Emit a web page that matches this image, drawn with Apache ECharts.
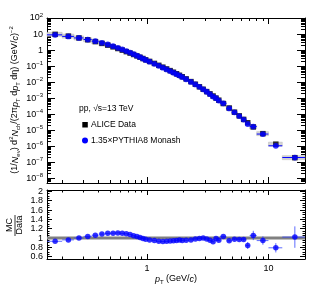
<!DOCTYPE html>
<html><head><meta charset="utf-8">
<script src="https://cdn.jsdelivr.net/npm/echarts@6/dist/echarts.min.js"></script>
<style>html,body{margin:0;padding:0;background:#fff}#c{width:315px;height:308px}</style>
</head><body><div id="c"></div>
<script>
// ---- data ----
const binEdges = [0.15,0.2,0.25,0.3,0.35,0.4,0.45,0.5,0.55,0.6,0.65,0.7,0.75,0.8,0.85,0.9,0.95,1.0,
  1.1,1.2,1.3,1.4,1.5,1.6,1.7,1.8,1.9,2.0,2.2,2.4,2.6,2.8,3.0,3.2,3.4,3.6,3.8,4.0,
  4.5,5.0,5.5,6.0,6.5,7.0,8.0,10.0,13.0,20.0];
const dataYield = [9.55,7.41,5.69,4.37,3.35,2.60,2.02,1.585,1.245,0.989,0.794,0.646,0.525,0.432,0.355,0.295,0.245,
  0.195,0.146,0.111,0.0851,0.0661,0.0519,0.0412,0.0331,0.0266,0.0216,
  0.0158,0.0107,0.00733,0.00507,0.00355,0.00254,0.00184,0.00135,0.00100,7.41e-4,
  4.57e-4,2.40e-4,1.32e-4,7.76e-5,4.68e-5,2.88e-5,
  1.58e-5,6.03e-6,1.33e-6,1.91e-7];
const mcOverData = [0.93,0.96,1.00,1.035,1.06,1.085,1.10,1.105,1.11,1.10,1.09,1.075,1.05,1.03,1.01,0.99,0.975,
  0.96,0.945,0.93,0.925,0.93,0.935,0.94,0.945,0.955,0.945,
  0.95,0.96,0.98,0.99,1.0,0.98,0.95,0.92,0.99,0.95,
  1.035,0.94,0.975,0.97,0.97,0.84,
  1.055,0.945,0.79,1.02];
const ratioErr = [0.004,0.004,0.004,0.004,0.004,0.004,0.004,0.004,0.004,0.004,0.004,0.004,0.004,0.004,0.004,0.004,0.004,
  0.005,0.005,0.005,0.005,0.005,0.005,0.006,0.006,0.006,0.006,
  0.007,0.007,0.008,0.008,0.009,0.01,0.01,0.011,0.012,0.013,
  0.012,0.015,0.02,0.025,0.03,0.075,
  0.1,0.09,0.1,0.23];
const xLabelValues = [1, 10];
const xMinorValues = [0.2,0.3,0.4,0.5,0.6,0.7,0.8,0.9,2,3,4,5,6,7,8,9];
const yDecades = [-8,-7,-6,-5,-4,-3,-2,-1,0,1,2];
const ratioLabels = [0.6,0.8,1.0,1.2,1.4,1.6,1.8,2.0];

// ---- derived ----
const L = Math.log10;
const XMIN = L(0.15), XMAX = L(20);
const YMIN = -8.3, YMAX = 2;
const RMIN = 0.55, RMAX = 2.03;
const lo = binEdges.slice(0, -1), hi = binEdges.slice(1);
const centers = lo.map((e, i) => (e + hi[i]) / 2);
const mcYield = dataYield.map((v, i) => v * mcOverData[i]);

const yMinor = [];
for (let d = -9; d <= 1; d++) for (let k = 2; k <= 9; k++) { const v = d + L(k); if (v > YMIN && v < YMAX) yMinor.push(v); }
const rMinor = [];
for (let v = 0.55; v <= 2.0001; v += 0.05) { const r = Math.round(v * 100) / 100; if (Math.abs(r * 5 - Math.round(r * 5)) > 1e-6) rMinor.push(r); }

const FONT = 'Liberation Sans, Arial, Helvetica, sans-serif';

function ax(grid, pos, min, max, ticks, len, major, extra) {
  return Object.assign({
    gridIndex: grid, type: 'value', position: pos, min: min, max: max,
    axisLine: { show: major, onZero: false, lineStyle: { color: '#000', width: 1 } },
    axisTick: { show: true, inside: true, length: len, customValues: ticks, lineStyle: { color: '#000', width: 1 } },
    axisLabel: { show: false }, splitLine: { show: false }, axisPointer: { show: false }
  }, extra || {});
}
const xMaj = xLabelValues.map(L), xMin = xMinorValues.map(L);

const xAxes = [
  ax(0, 'bottom', XMIN, XMAX, xMaj, 6, true), ax(0, 'bottom', XMIN, XMAX, xMin, 3, false),
  ax(0, 'top', XMIN, XMAX, xMaj, 6, true), ax(0, 'top', XMIN, XMAX, xMin, 3, false),
  ax(1, 'bottom', XMIN, XMAX, xMaj, 5, true, {
    axisLabel: { show: true, customValues: xMaj, margin: 5, color: '#000', fontSize: 9, fontFamily: FONT,
      formatter: v => String(Math.round(Math.pow(10, v))) } }),
  ax(1, 'bottom', XMIN, XMAX, xMin, 2.5, false),
  ax(1, 'top', XMIN, XMAX, xMaj, 5, true), ax(1, 'top', XMIN, XMAX, xMin, 2.5, false)
];
const yAxes = [
  ax(0, 'left', YMIN, YMAX, yDecades, 8, true, {
    axisLabel: { show: true, customValues: yDecades, margin: 4, color: '#000', fontSize: 9, fontFamily: FONT,
      formatter: v => { const e = Math.round(v); if (e === 0) return '{n|1}'; if (e === 1) return '{n|10}';
        return '{n|10}{s|' + (e < 0 ? '\u2212' + (-e) : e) + '}'; },
      rich: { n: { fontSize: 9, lineHeight: 12, verticalAlign: 'middle', fontFamily: FONT, color: '#000' },
              s: { fontSize: 6, lineHeight: 7, verticalAlign: 'top', fontFamily: FONT, color: '#000' } } } }),
  ax(0, 'left', YMIN, YMAX, yMinor, 4, false),
  ax(0, 'right', YMIN, YMAX, yDecades, 8, true), ax(0, 'right', YMIN, YMAX, yMinor, 4, false),
  ax(1, 'left', RMIN, RMAX, ratioLabels, 5, true, {
    axisLabel: { show: true, customValues: ratioLabels, margin: 4, color: '#000', fontSize: 9, fontFamily: FONT,
      formatter: v => String(Math.round(v * 10) / 10) } }),
  ax(1, 'left', RMIN, RMAX, rMinor, 2.5, false),
  ax(1, 'right', RMIN, RMAX, ratioLabels, 5, true), ax(1, 'right', RMIN, RMAX, rMinor, 2.5, false)
];

function hbar(color, width, op) {
  return function (params, api) {
    const y = api.value(2);
    const p0 = api.coord([api.value(0), y]), p1 = api.coord([api.value(1), y]);
    return { type: 'line', shape: { x1: p0[0], y1: p0[1], x2: p1[0], y2: p1[1] },
      style: { stroke: color, lineWidth: width, opacity: op } };
  };
}

const series = [
  { type: 'custom', xAxisIndex: 0, yAxisIndex: 0, z: 2,
    data: lo.map((l, i) => [L(l), L(hi[i]), L(dataYield[i])]),
    encode: { x: [0, 1], y: 2 },
    renderItem: function (params, api) {
      const y = api.value(2);
      const p0 = api.coord([api.value(0), y]), p1 = api.coord([api.value(1), y]);
      return { type: 'rect', shape: { x: p0[0], y: p0[1] - 2, width: p1[0] - p0[0], height: 4 },
        style: { fill: '#d4d4d4', stroke: '#b8b8b8', lineWidth: 0.5 } };
    } },
  { type: 'scatter', xAxisIndex: 0, yAxisIndex: 0, z: 3, symbol: 'rect', symbolSize: 5.5,
    itemStyle: { color: '#000' }, data: centers.map((c, i) => [L(c), L(dataYield[i])]) },
  { type: 'custom', xAxisIndex: 0, yAxisIndex: 0, z: 4,
    data: lo.map((l, i) => [L(l), L(hi[i]), L(mcYield[i])]), encode: { x: [0, 1], y: 2 },
    renderItem: hbar('#0000ff', 1, 1) },
  { type: 'scatter', xAxisIndex: 0, yAxisIndex: 0, z: 5, symbol: 'circle', symbolSize: 5.8,
    itemStyle: { color: '#0000ff' }, data: centers.map((c, i) => [L(c), L(mcYield[i])]) },

  { type: 'line', xAxisIndex: 4, yAxisIndex: 4, z: 2, symbol: 'none', silent: true,
    lineStyle: { color: '#808080', width: 3 }, data: [[XMIN, 1], [XMAX, 1]] },
  { type: 'custom', xAxisIndex: 4, yAxisIndex: 4, z: 4,
    data: lo.map((l, i) => [L(l), L(hi[i]), mcOverData[i], ratioErr[i], L(centers[i])]),
    encode: { x: [0, 1], y: 2 },
    renderItem: function (params, api) {
      const y = api.value(2), e = api.value(3), xc = api.value(4);
      const p0 = api.coord([api.value(0), y]), p1 = api.coord([api.value(1), y]);
      const v0 = api.coord([xc, y - e]), v1 = api.coord([xc, y + e]);
      return { type: 'group', children: [
        { type: 'line', shape: { x1: p0[0], y1: p0[1], x2: p1[0], y2: p1[1] }, style: { stroke: '#2a3cff', lineWidth: 1, opacity: 0.75 } },
        { type: 'line', shape: { x1: v0[0], y1: v0[1], x2: v1[0], y2: v1[1] }, style: { stroke: '#2a3cff', lineWidth: 1, opacity: 0.75 } }
      ] };
    } },
  { type: 'scatter', xAxisIndex: 4, yAxisIndex: 4, z: 5, symbol: 'circle', symbolSize: 5.5,
    itemStyle: { color: '#0000ff' }, data: centers.map((c, i) => [L(c), mcOverData[i]]) }
];

const richTitle = {
  n: { fontSize: 9, lineHeight: 13, fontFamily: FONT, fill: '#000' },
  i: { fontSize: 9, lineHeight: 13, fontStyle: 'italic', fontFamily: FONT, fill: '#000' },
  sub: { fontSize: 6, lineHeight: 6, verticalAlign: 'bottom', fontFamily: FONT, fill: '#000' },
  sup: { fontSize: 6, lineHeight: 6, verticalAlign: 'top', fontFamily: FONT, fill: '#000' }
};

const graphic = [
  { type: 'text', x: 15, y: 100, rotation: Math.PI / 2, silent: true,
    style: { text: '{n|(1/}{i|N}{sub|ev}{n|) d}{sup|2}{i|N}{sub|ch}{n|/(2\u03c0}{i|p}{sub|T}{n| d}{i|p}{sub|T}{n| d\u03b7) (GeV/}{i|c}{n|)}{sup|\u22122}',
      rich: richTitle, align: 'center', verticalAlign: 'middle', fill: '#000' } },
  { type: 'text', x: 176, y: 279, silent: true,
    style: { text: '{i|p}{sub|T}{n| (GeV/}{i|c}{n|)}', rich: richTitle, align: 'center', verticalAlign: 'middle', fill: '#000' } },
  // MC / Data fraction
  { type: 'text', x: 10, y: 225, rotation: Math.PI / 2, silent: true,
    style: { text: 'MC', font: '9px ' + FONT, fill: '#000', align: 'center', verticalAlign: 'middle' } },
  { type: 'line', silent: true, shape: { x1: 15, y1: 215, x2: 15, y2: 236 }, style: { stroke: '#000', lineWidth: 0.8 } },
  { type: 'text', x: 20, y: 225, rotation: Math.PI / 2, silent: true,
    style: { text: 'Data', font: '9px ' + FONT, fill: '#000', align: 'center', verticalAlign: 'middle' } },
  // legend
  { type: 'text', x: 79, y: 109, silent: true,
    style: { text: 'pp, \u221as=13 TeV', font: '8.5px ' + FONT, fill: '#000', align: 'left', verticalAlign: 'middle' } },
  { type: 'rect', silent: true, shape: { x: 82.3, y: 122, width: 5.5, height: 5.5 }, style: { fill: '#000' } },
  { type: 'text', x: 91, y: 125, silent: true,
    style: { text: 'ALICE Data', font: '8.5px ' + FONT, fill: '#000', align: 'left', verticalAlign: 'middle' } },
  { type: 'circle', silent: true, shape: { cx: 85, cy: 140.5, r: 3 }, style: { fill: '#0000ff' } },
  { type: 'text', x: 91, y: 140.5, silent: true,
    style: { text: '1.35\u00d7PYTHIA8 Monash', font: '8.5px ' + FONT, fill: '#000', align: 'left', verticalAlign: 'middle' } }
];

const chart = echarts.init(document.getElementById('c'), null, { renderer: 'canvas' });
chart.setOption({
  animation: false,
  backgroundColor: '#fff',
  grid: [
    { left: 47, right: 10, top: 18, height: 165, containLabel: false },
    { left: 47, right: 10, top: 190, height: 69, containLabel: false }
  ],
  xAxis: xAxes,
  yAxis: yAxes,
  series: series,
  graphic: graphic
});
</script>
</body></html>
